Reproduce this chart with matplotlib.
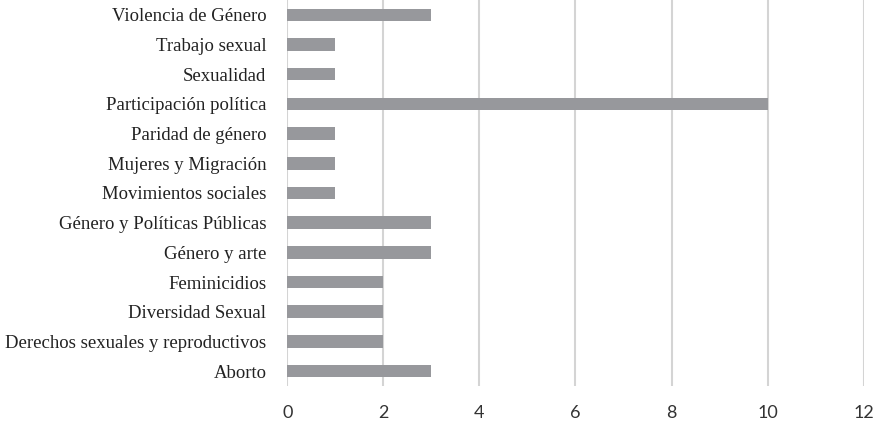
import matplotlib
matplotlib.use('Agg')
import matplotlib.pyplot as plt

# categorias de baixo para cima, como no grafico
temas = ['Aborto', 'Derechos sexuales y reproductivos', 'Diversidad Sexual',
         'Feminicidios', 'Género y arte', 'Género y Políticas Públicas',
         'Movimientos sociales', 'Mujeres y Migración', 'Paridad de género',
         'Participación política', 'Sexualidad', 'Trabajo sexual',
         'Violencia de Género']
valores = [3, 2, 2, 2, 3, 3, 1, 1, 1, 10, 1, 1, 3]
ticks_x = [0, 2, 4, 6, 8, 10, 12]

fig = plt.figure(figsize=(8.84, 4.26), dpi=100)
ax = fig.add_axes([0.325, 0.094, 0.652, 0.906])

ax.barh(range(len(temas)), valores, height=0.42, color='#97989c', zorder=3)

ax.set_xlim(0, 12)
ax.set_ylim(-0.5, len(temas) - 0.5)
ax.set_xticks(ticks_x)
ax.set_xticklabels([str(t) for t in ticks_x], fontsize=13, family='Lato', color='#333333')
ax.set_yticks(range(len(temas)))
ax.set_yticklabels(temas, fontsize=13.5, family='Liberation Serif', color='#222222')

ax.grid(axis='x', color='#d4d4d4', linewidth=1.5, zorder=0)
for s in ax.spines.values():
    s.set_visible(False)
ax.tick_params(axis='both', length=0)
ax.tick_params(axis='x', pad=14)
ax.tick_params(axis='y', pad=15)

fig.savefig('out.png', dpi=100)
